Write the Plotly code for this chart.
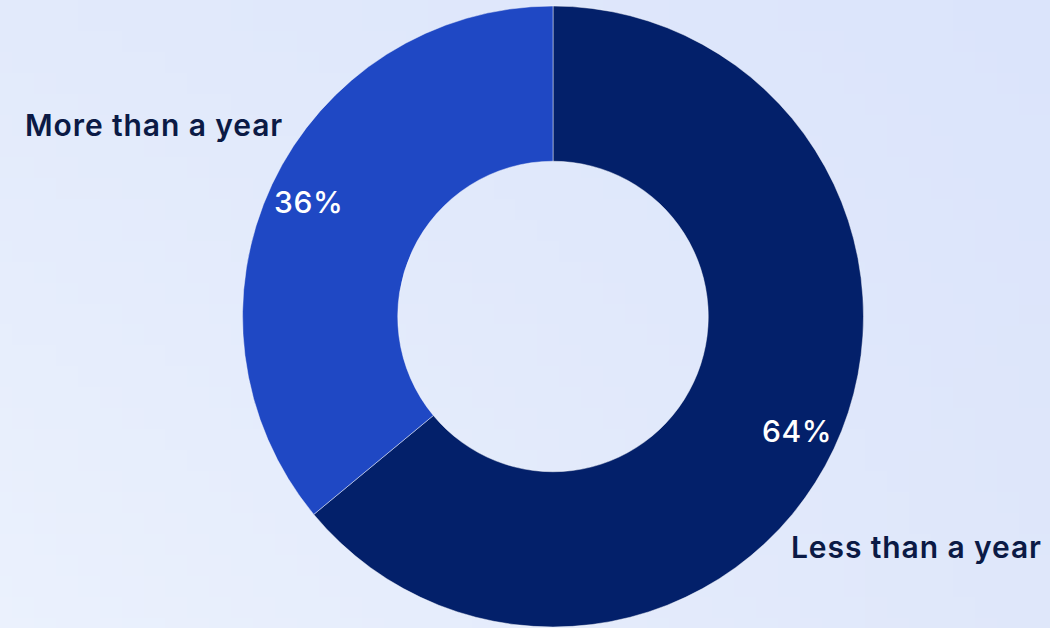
import base64, struct, zlib, math
import plotly.graph_objects as go

# ---- data ----
labels = ["Less than a year", "More than a year"]
values = [64, 36]
colors = ["#03206A", "#1F48C4"]

W, H = 1050, 628

# ---- background gradient as small PNG ----
def make_png(w, h, corners):
    tl, tr, bl, br = corners
    rows = b""
    for j in range(h):
        fy = j / (h - 1)
        rows += b"\x00"
        for i in range(w):
            fx = i / (w - 1)
            px = []
            for k in range(3):
                top = tl[k] * (1 - fx) + tr[k] * fx
                bot = bl[k] * (1 - fx) + br[k] * fx
                px.append(int(round(top * (1 - fy) + bot * fy)))
            rows += bytes(px)
    def chunk(t, d):
        c = struct.pack(">I", len(d)) + t + d
        return c + struct.pack(">I", zlib.crc32(t + d) & 0xffffffff)
    png = b"\x89PNG\r\n\x1a\n"
    png += chunk(b"IHDR", struct.pack(">IIBBBBB", w, h, 8, 2, 0, 0, 0))
    png += chunk(b"IDAT", zlib.compress(rows))
    png += chunk(b"IEND", b"")
    return "data:image/png;base64," + base64.b64encode(png).decode()

bg = make_png(48, 30, [(226, 234, 251), (219, 228, 251), (235, 241, 253), (223, 231, 250)])

# ---- pie geometry ----
cx_px, cy_px, R = 553, 316.5, 310.5
dom_x = [(cx_px - R) / W, (cx_px + R) / W]
dom_y = [1 - (cy_px + R) / H, 1 - (cy_px - R) / H]

fig = go.Figure(go.Pie(
    labels=labels, values=values, hole=0.5, sort=False, direction="clockwise",
    rotation=0, textinfo="none", hoverinfo="label+percent",
    marker=dict(colors=colors, line=dict(color="rgba(255,255,255,0.45)", width=1)),
    domain=dict(x=dom_x, y=dom_y), showlegend=False,
))

# percent labels placed along each slice's mid-angle
total = sum(values)
cum = 0
annotations = []
for v in values:
    theta = math.radians(360 * (cum + v / 2) / total)
    r = 0.869 * R
    xp = cx_px + r * math.sin(theta)
    yp = cy_px - r * math.cos(theta)
    annotations.append(dict(
        x=xp / W, y=1 - yp / H, xref="paper", yref="paper", showarrow=False,
        text=f"<span style='letter-spacing:0.6px'>{round(100 * v / total)}%</span>",
        xanchor="center", yanchor="middle",
        font=dict(family="Inter", size=30, color="white", weight=500),
    ))
    cum += v

# category labels
def lab(t):
    return f"<span style='letter-spacing:0.9px'>{t}</span>"

annotations.append(dict(x=285 / W, y=1 - 125 / H, xref="paper", yref="paper", showarrow=False,
                        text=lab(labels[1]), xanchor="right", yanchor="middle",
                        font=dict(family="Inter", size=30, color="#0B1A45", weight=600)))
annotations.append(dict(x=789 / W, y=1 - 547 / H, xref="paper", yref="paper", showarrow=False,
                        text=lab(labels[0]), xanchor="left", yanchor="middle",
                        font=dict(family="Inter", size=30, color="#0B1A45", weight=600)))

fig.update_layout(
    width=W, height=H, margin=dict(l=0, r=0, t=0, b=0),
    paper_bgcolor="#E4EBFB", plot_bgcolor="#E4EBFB",
    images=[dict(source=bg, xref="paper", yref="paper", x=0, y=1, sizex=1, sizey=1,
                 xanchor="left", yanchor="top", sizing="stretch", layer="below")],
    annotations=annotations,
)

fig.write_html("out.html")
